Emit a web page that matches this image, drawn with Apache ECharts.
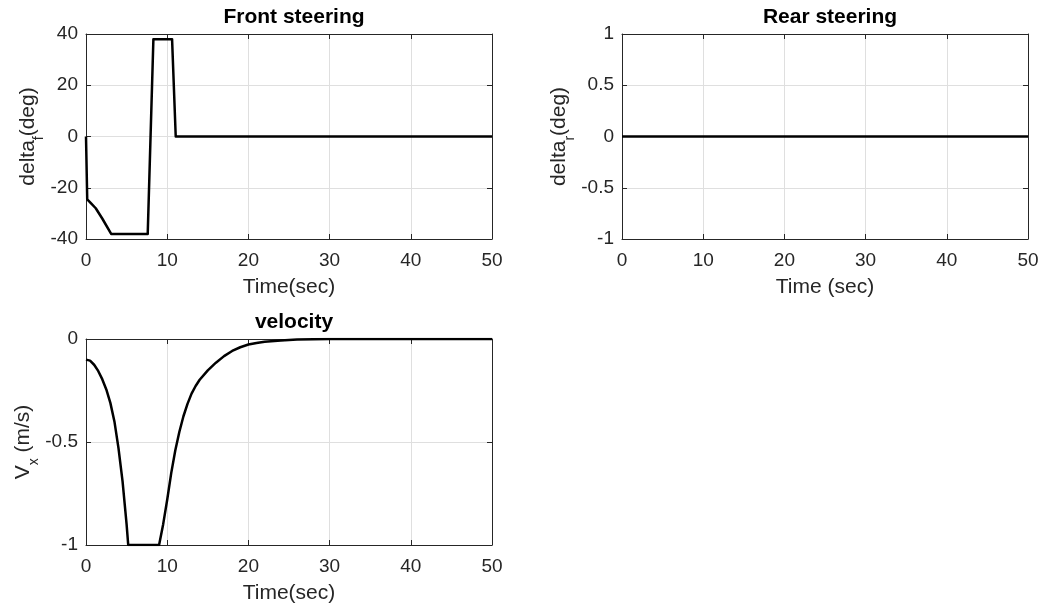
<!DOCTYPE html>
<html><head><meta charset="utf-8">
<script src="https://cdn.jsdelivr.net/npm/echarts@6/dist/echarts.min.js"></script>
<style>html,body{margin:0;padding:0;background:#fff}#c{width:1042px;height:613px}</style>
</head><body><div id="c"></div>
<script>
// ---- data ----
const timeTicks = [0, 10, 20, 30, 40, 50];
const frontTicks = [-40, -20, 0, 20, 40];
const rearTicks = [-1, -0.5, 0, 0.5, 1];
const velTicks = [-1, -0.5, 0];

const frontT   = [0, 0.15, 0.6, 1.2, 2.0, 3.1, 7.6, 8.3, 10.6, 11.05, 50];
const frontDeg = [0, -24.5, -26, -28, -32, -38, -38, 38, 38, 0, 0];

const rearT   = [0, 50];
const rearDeg = [0, 0];

const velT = [0, 0.5, 1, 1.5, 2, 2.5, 3, 3.5, 4, 4.5, 5, 5.2, 9.0, 9.5, 10, 10.5, 11, 11.5, 12, 12.5, 13, 13.5, 14, 15, 16, 17, 18, 19, 20, 21, 22, 24, 26, 28, 30, 50];
const velV = [-0.1, -0.105, -0.125, -0.155, -0.195, -0.245, -0.31, -0.4, -0.53, -0.69, -0.9, -1.0, -1.0, -0.9, -0.78, -0.65, -0.54, -0.45, -0.375, -0.315, -0.265, -0.228, -0.198, -0.152, -0.115, -0.083, -0.058, -0.04, -0.027, -0.019, -0.013, -0.007, -0.003, -0.001, 0, 0];

// ---- styles ----
const FONT = "'Liberation Sans', Arial, Helvetica, sans-serif";
const TXT = '#262626';
const GRIDC = '#dfdfdf';

function zip(a, b) { return a.map((v, i) => [v, b[i]]); }

const grids = [
  { left: 86, top: 34, width: 406, height: 205 },
  { left: 622, top: 34, width: 406, height: 205 },
  { left: 86, top: 339, width: 406, height: 206 }
];

const xAxes = [], yAxes = [];
function addX(gi, ticks, name) {
  const min = ticks[0], max = ticks[ticks.length - 1], interval = ticks[1] - ticks[0];
  xAxes.push({
    type: 'value', gridIndex: gi, min, max, interval, position: 'bottom',
    name, nameLocation: 'middle', nameGap: 38,
    nameTextStyle: { fontFamily: FONT, fontSize: 21, color: TXT },
    axisLine: { show: true, onZero: false, lineStyle: { color: TXT, width: 1 } },
    axisTick: { show: true, inside: true, length: 5, lineStyle: { color: TXT } },
    axisLabel: { fontFamily: FONT, fontSize: 19, color: TXT, margin: 12 },
    splitLine: { show: true, lineStyle: { color: GRIDC, width: 1 } }
  });
  xAxes.push({
    type: 'value', gridIndex: gi, min, max, interval, position: 'top',
    axisLine: { show: true, onZero: false, lineStyle: { color: TXT, width: 1 } },
    axisTick: { show: true, inside: true, length: 5, lineStyle: { color: TXT } },
    axisLabel: { show: false }, splitLine: { show: false }
  });
}
function addY(gi, ticks, sub, rest, gap, lead) {
  const min = ticks[0], max = ticks[ticks.length - 1], interval = ticks[1] - ticks[0];
  yAxes.push({
    type: 'value', gridIndex: gi, min, max, interval, position: 'left',
    name: '{m|' + lead + '}{s|' + sub + '}{m|' + rest + '}',
    nameLocation: 'middle', nameGap: gap, nameRotate: 90,
    nameTextStyle: {
      fontFamily: FONT, fontSize: 21, color: TXT,
      rich: {
        m: { fontFamily: FONT, fontSize: 21, color: TXT, lineHeight: 21, verticalAlign: 'top' },
        s: { fontFamily: FONT, fontSize: 14, color: TXT, lineHeight: 29, verticalAlign: 'bottom' }
      }
    },
    axisLine: { show: true, onZero: false, lineStyle: { color: TXT, width: 1 } },
    axisTick: { show: true, inside: true, length: 5, lineStyle: { color: TXT } },
    axisLabel: { fontFamily: FONT, fontSize: 19, color: TXT, margin: 8 },
    splitLine: { show: true, lineStyle: { color: GRIDC, width: 1 } }
  });
  yAxes.push({
    type: 'value', gridIndex: gi, min, max, interval, position: 'right',
    axisLine: { show: true, onZero: false, lineStyle: { color: TXT, width: 1 } },
    axisTick: { show: true, inside: true, length: 5, lineStyle: { color: TXT } },
    axisLabel: { show: false }, splitLine: { show: false }
  });
}
addX(0, timeTicks, 'Time(sec)');
addX(1, timeTicks, 'Time (sec)');
addX(2, timeTicks, 'Time(sec)');
addY(0, frontTicks, 'f', '(deg)', 27, 'delta');
addY(1, rearTicks, 'r', '(deg)', 34, 'delta');
addY(2, velTicks, 'x', ' (m/s)', 38, 'V');

function line(gi, data) {
  return {
    type: 'line', xAxisIndex: gi * 2, yAxisIndex: gi * 2, data, symbol: 'none',
    lineStyle: { color: '#000', width: 2.5, join: 'round' }, animation: false, clip: true
  };
}

const titleStyle = { fontFamily: FONT, fontSize: 21, fontWeight: 'bold', color: '#000' };
const option = {
  backgroundColor: '#fff',
  animation: false,
  title: [
    { text: 'Front steering', left: 289, top: 2, textAlign: 'center', textStyle: titleStyle },
    { text: 'Rear steering', left: 825, top: 2, textAlign: 'center', textStyle: titleStyle },
    { text: 'velocity', left: 289, top: 307, textAlign: 'center', textStyle: titleStyle }
  ],
  grid: grids,
  xAxis: xAxes,
  yAxis: yAxes,
  series: [
    line(0, zip(frontT, frontDeg)),
    line(1, zip(rearT, rearDeg)),
    line(2, zip(velT, velV))
  ]
};
const chart = echarts.init(document.getElementById('c'), null, { renderer: 'canvas' });
chart.setOption(option);
</script></body></html>
